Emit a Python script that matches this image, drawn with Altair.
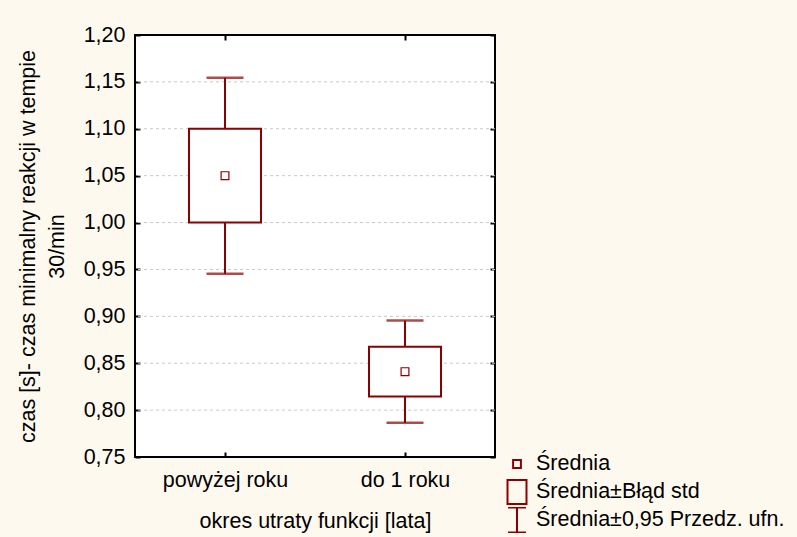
import altair as alt
import pandas as pd

# ---- data ----
groups = ["powyżej roku", "do 1 roku"]
means = [1.050, 0.841]
se_low = [1.000, 0.8145]
se_high = [1.100, 0.8675]
ci_low = [0.9455, 0.7865]
ci_high = [1.1545, 0.8955]
y_ticks = [0.75, 0.80, 0.85, 0.90, 0.95, 1.00, 1.05, 1.10, 1.15, 1.20]
grid_values = [0.80, 0.85, 0.90, 0.95, 1.00, 1.05, 1.10, 1.15]
legend_labels = ["Średnia", "Średnia±Błąd std", "Średnia±0,95 Przedz. ufn."]
x_title = "okres utraty funkcji [lata]"
y_title = ["czas [s]- czas minimalny reakcji w tempie", "30/min"]

RED = "#8B0000"
FONT = "Liberation Sans"
FS = 21.5

df = pd.DataFrame({
    "grupa": groups,
    "srednia": means,
    "se_lo": se_low,
    "se_hi": se_high,
    "ci_lo": ci_low,
    "ci_hi": ci_high,
    "leg": [legend_labels[0]] * len(groups),
})
grid_df = pd.DataFrame({"v": grid_values})

# symbols for legend (custom paths, unit square [-1,1])
paths = [
    "M-0.3,-0.3L0.3,-0.3L0.3,0.3L-0.3,0.3Z",
    "M-0.73,-0.92L0.73,-0.92L0.73,0.92L-0.73,0.92Z",
    "M-0.69,-0.96L0.69,-0.96M0,-0.96L0,0.96M-0.69,0.96L0.69,0.96",
]

y_scale = alt.Scale(domain=[0.75, 1.20], nice=False, zero=False)
x_scale = alt.Scale(type="point", domain=groups, padding=0.5)

label_expr = "replace(format(datum.value, '.2f'), '.', ',')"

x_bottom = alt.X(
    "grupa:N", scale=x_scale, sort=groups,
    axis=alt.Axis(
        orient="bottom", offset=-5, tickSize=5, tickWidth=2, tickColor="black",
        domain=False, grid=False, labelAngle=0, labelPadding=12,
        labelFont=FONT, labelFontSize=FS, labelColor="black",
        title=x_title, titleFont=FONT, titleFontSize=FS, titleFontWeight="normal",
        titleColor="black", titlePadding=20,
    ),
)
x_top = alt.X(
    "grupa:N", scale=x_scale, sort=groups,
    axis=alt.Axis(orient="top", offset=-5, tickSize=5, tickWidth=2, tickColor="black",
                  domain=False, grid=False, labels=False, title=None),
)
x_plain = alt.X("grupa:N", scale=x_scale, sort=groups, axis=None)

y_left = alt.Y(
    "ci_lo:Q", scale=y_scale,
    axis=alt.Axis(
        orient="left", offset=-5, tickSize=5, tickWidth=2, tickColor="black",
        domain=False, grid=False, values=y_ticks, labelExpr=label_expr,
        labelPadding=10, labelFlush=False, labelOverlap=False,
        labelFont=FONT, labelFontSize=FS, labelColor="black",
        title=y_title, titleFont=FONT, titleFontSize=FS, titleFontWeight="normal",
        titleColor="black", titlePadding=15, titleLineHeight=29,
    ),
)
y_right = alt.Y(
    "se_lo:Q", scale=y_scale,
    axis=alt.Axis(orient="right", offset=-5, tickSize=5, tickWidth=2, tickColor="black",
                  domain=False, grid=False, values=y_ticks, labels=False, title=None),
)

base = alt.Chart(df)

grid = alt.Chart(grid_df).mark_rule(color="#C8C8C8", strokeDash=[3, 3], strokeWidth=1).encode(
    y=alt.Y("v:Q", scale=y_scale, axis=None)
)

whisker = base.mark_rule(color=RED, strokeWidth=2).encode(
    x=x_bottom, y=y_left, y2="ci_hi:Q"
)
cap_lo = base.mark_tick(color=RED, size=37, thickness=2.5).encode(
    x=x_plain, y=alt.Y("ci_lo:Q", scale=y_scale, axis=None)
)
cap_hi = base.mark_tick(color=RED, size=37, thickness=2.5).encode(
    x=x_plain, y=alt.Y("ci_hi:Q", scale=y_scale, axis=None)
)
box = base.mark_bar(size=72, fill="white", stroke=RED, strokeWidth=2).encode(
    x=x_top, y=y_right, y2="se_hi:Q"
)
mean = base.mark_point(filled=False, size=676, strokeWidth=1.2, color=RED, opacity=1).encode(
    x=x_plain,
    y=alt.Y("srednia:Q", scale=y_scale, axis=None),
    shape=alt.Shape(
        "leg:N",
        scale=alt.Scale(domain=legend_labels, range=paths),
        legend=alt.Legend(
            title=None, orient="none", legendX=368, legendY=416,
            symbolSize=676, symbolStrokeWidth=2, symbolStrokeColor=RED,
            symbolFillColor="transparent", symbolOpacity=1,
            labelFont=FONT, labelFontSize=FS, labelColor="black",
            labelOffset=5, labelLimit=500, rowPadding=2, padding=0,
            clipHeight=26,
        ),
    ),
)

chart = alt.layer(grid, whisker, cap_lo, cap_hi, box, mean).resolve_axis(
    x="independent", y="independent"
).properties(
    width=360, height=422,
    autosize=alt.AutoSizeParams(type="none"),
    padding={"left": 135, "top": 35, "right": 302, "bottom": 80},
    background="#FEF9EE",
).configure_view(
    stroke="black", strokeWidth=2, fill="white"
)

chart.save("out.html", embed_options={"renderer": "svg", "actions": False})
